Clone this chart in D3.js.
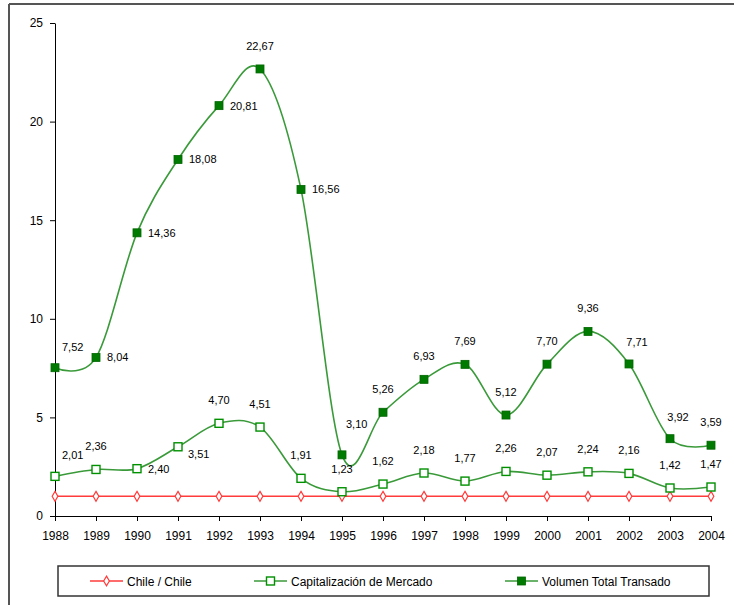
<!DOCTYPE html>
<html>
<head>
<meta charset="utf-8">
<script src="https://cdn.jsdelivr.net/npm/d3@7/dist/d3.min.js"></script>
<style>
  body { margin: 0; background: #fff; }
  svg { display: block; font-family: "Liberation Sans", Arial, sans-serif; }
</style>
</head>
<body>
<svg id="chart"></svg>
<script>
const years = [1988, 1989, 1990, 1991, 1992, 1993, 1994, 1995, 1996, 1997, 1998, 1999, 2000, 2001, 2002, 2003, 2004];
const chile = [1, 1, 1, 1, 1, 1, 1, 1, 1, 1, 1, 1, 1, 1, 1, 1, 1];
const capitalizacion = [2.01, 2.36, 2.40, 3.51, 4.70, 4.51, 1.91, 1.23, 1.62, 2.18, 1.77, 2.26, 2.07, 2.24, 2.16, 1.42, 1.47];
const volumen = [7.52, 8.04, 14.36, 18.08, 20.81, 22.67, 16.56, 3.10, 5.26, 6.93, 7.69, 5.12, 7.70, 9.36, 7.71, 3.92, 3.59];
const yTicks = [0, 5, 10, 15, 20, 25];
const seriesNames = ["Chile / Chile", "Capitalización de Mercado", "Volumen Total Transado"];

// where each data label sits relative to its point
const volLabelPos = ["ur", "r", "r", "r", "r", "u", "r", "ur2", "u", "u", "u", "u", "u", "u", "uR", "uR", "u"];
const capLabelPos = ["ur", "u", "r", "rd", "u", "u", "u", "u", "u", "u", "u", "u", "u", "u", "u", "u", "u"];

const width = 734, height = 605;
const svg = d3.select("#chart").attr("width", width).attr("height", height);

// outer frame (left and top edges visible)
svg.append("line").attr("x1", 9).attr("x2", 9).attr("y1", 4).attr("y2", height)
  .attr("stroke", "#555").attr("stroke-width", 2);
svg.append("line").attr("x1", 9).attr("x2", width).attr("y1", 4).attr("y2", 4)
  .attr("stroke", "#555").attr("stroke-width", 2);

const x = d3.scalePoint().domain(years).range([55, 711]);
const y = d3.scaleLinear().domain([0, 25]).range([516, 23]);

const fmt = v => d3.format(".2f")(v).replace(".", ",");

// axes
const yAxis = svg.append("g").attr("transform", "translate(55,0)")
  .call(d3.axisLeft(y).tickValues(yTicks).tickSize(5).tickPadding(7).tickSizeOuter(0));
yAxis.select(".domain").attr("stroke", "#000");
yAxis.selectAll("text").attr("font-size", 12).attr("fill", "#000").attr("font-family", "Liberation Sans, Arial, sans-serif");

const xAxis = svg.append("g").attr("transform", "translate(0,516)")
  .call(d3.axisBottom(x).tickSize(5).tickPadding(10).tickSizeOuter(0).tickFormat(d3.format("d")));
xAxis.select(".domain").attr("stroke", "#000");
xAxis.selectAll("text").attr("font-size", 12).attr("fill", "#000").attr("font-family", "Liberation Sans, Arial, sans-serif");

const line = d3.line().x((d, i) => x(years[i])).y(d => y(d)).curve(d3.curveCatmullRom.alpha(0));

const lineGreen = "#3a9a3a";

// Chile
svg.append("path").datum(chile).attr("d", line).attr("fill", "none")
  .attr("stroke", "#ff3b3b").attr("stroke-width", 1.6);
const diamond = d3.symbol().type(d3.symbolDiamond).size(28);
svg.append("g").selectAll("path").data(chile).join("path")
  .attr("d", diamond)
  .attr("transform", (d, i) => `translate(${x(years[i])},${y(d)})`)
  .attr("fill", "#fff").attr("stroke", "#ff3b3b").attr("stroke-width", 1.2);

// Capitalizacion
svg.append("path").datum(capitalizacion).attr("d", line).attr("fill", "none")
  .attr("stroke", lineGreen).attr("stroke-width", 1.6);
svg.append("g").selectAll("rect").data(capitalizacion).join("rect")
  .attr("x", (d, i) => x(years[i]) - 4).attr("y", d => y(d) - 4)
  .attr("width", 8).attr("height", 8)
  .attr("fill", "#fff").attr("stroke", "#009000").attr("stroke-width", 1.4);

// Volumen
svg.append("path").datum(volumen).attr("d", line).attr("fill", "none")
  .attr("stroke", lineGreen).attr("stroke-width", 1.6);
svg.append("g").selectAll("rect").data(volumen).join("rect")
  .attr("x", (d, i) => x(years[i]) - 4).attr("y", d => y(d) - 4)
  .attr("width", 8).attr("height", 8)
  .attr("fill", "#007a00").attr("stroke", "#006600").attr("stroke-width", 0.8);

// data labels
const offsets = {
  u: [0, -19, "middle"],
  r: [11, 4, "start"],
  ur: [7, -17, "start"],
  uR: [8, -18, "middle"],
  ur2: [4, -27, "start"],
  rd: [10, 11, "start"]
};
function labels(vals, pos) {
  svg.append("g").selectAll("text").data(vals).join("text")
    .attr("x", (d, i) => x(years[i]) + offsets[pos[i]][0])
    .attr("y", (d, i) => y(d) + offsets[pos[i]][1])
    .attr("text-anchor", (d, i) => offsets[pos[i]][2])
    .attr("font-size", 11).attr("fill", "#000")
    .text(d => fmt(d));
}
labels(volumen, volLabelPos);
labels(capitalizacion, capLabelPos);

// legend
const lg = svg.append("g");
lg.append("rect").attr("x", 58).attr("y", 566).attr("width", 651).attr("height", 30)
  .attr("fill", "#fff").attr("stroke", "#333").attr("stroke-width", 1.5);
const legendX = [90, 254, 505];
const ly = 581;
seriesNames.forEach((name, i) => {
  const g = lg.append("g").attr("transform", `translate(${legendX[i]},${ly})`);
  const col = i === 0 ? "#ff3b3b" : lineGreen;
  g.append("line").attr("x1", 0).attr("x2", 33).attr("stroke", col).attr("stroke-width", 1.6);
  if (i === 0) {
    g.append("path").attr("d", diamond).attr("transform", "translate(16.5,0)")
      .attr("fill", "#fff").attr("stroke", "#ff3b3b").attr("stroke-width", 1.2);
  } else {
    g.append("rect").attr("x", 12.5).attr("y", -4).attr("width", 8).attr("height", 8)
      .attr("fill", i === 1 ? "#fff" : "#007a00")
      .attr("stroke", i === 1 ? "#009000" : "#006600").attr("stroke-width", i === 1 ? 1.4 : 0.8);
  }
  g.append("text").attr("x", 37).attr("y", 4.5).attr("font-size", 12).attr("fill", "#000").text(name);
});
</script>
</body>
</html>
